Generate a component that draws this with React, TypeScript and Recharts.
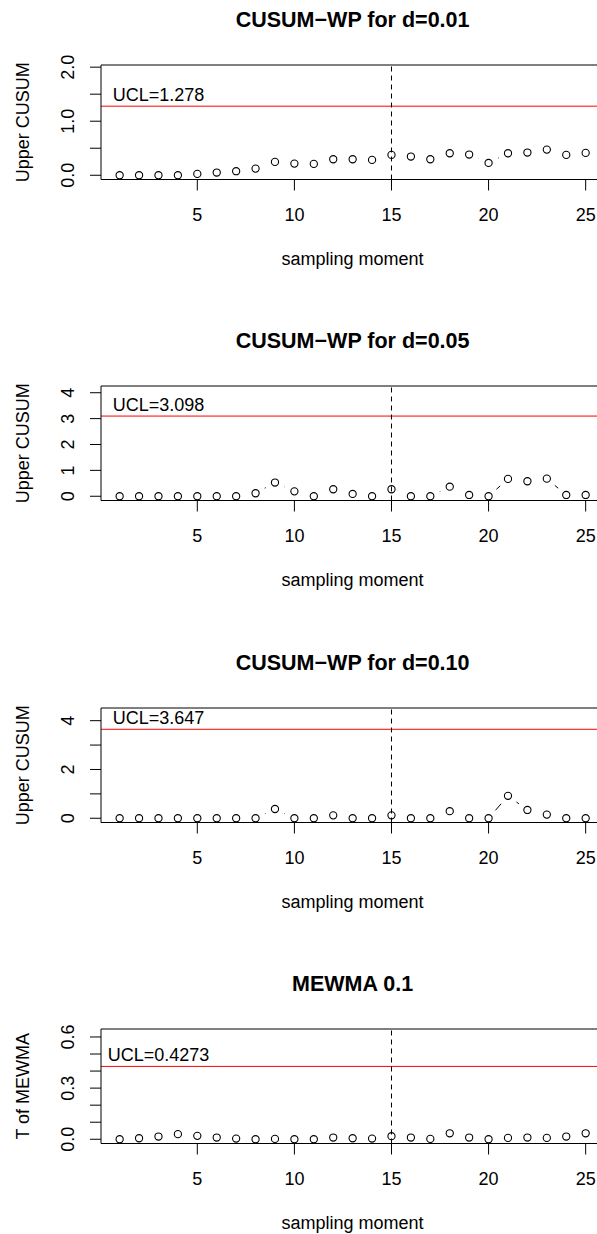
import React from "react";
import {
  LineChart,
  Line,
  XAxis,
  YAxis,
  ReferenceLine,
  ReferenceDot,
} from "recharts";

// sampling moments
const samples = [
  1, 2, 3, 4, 5, 6, 7, 8, 9, 10, 11, 12, 13, 14, 15, 16, 17, 18, 19, 20, 21,
  22, 23, 24, 25,
];

// upper CUSUM statistics
const cusum001 = [
  0, 0, 0, 0, 0.025, 0.05, 0.075, 0.123, 0.247, 0.216, 0.21, 0.296, 0.296,
  0.284, 0.377, 0.346, 0.296, 0.407, 0.383, 0.228, 0.407, 0.42, 0.475, 0.377,
  0.414,
];
const cusum005 = [
  0, 0, 0, 0, 0, 0, 0, 0.116, 0.53, 0.19, 0, 0.27, 0.09, 0, 0.27, 0, 0, 0.37,
  0.05, 0, 0.67, 0.58, 0.68, 0.05, 0.05,
];
const cusum010 = [
  0, 0, 0, 0, 0, 0, 0, 0, 0.38, 0, 0, 0.12, 0, 0, 0.12, 0, 0, 0.29, 0, 0, 0.92,
  0.34, 0.15, 0, 0,
];
const mewma01 = [
  0, 0.006, 0.016, 0.03, 0.02, 0.01, 0.004, 0, 0.002, 0, 0, 0.01, 0.006, 0.004,
  0.018, 0.01, 0.002, 0.035, 0.01, 0, 0.008, 0.01, 0.008, 0.016, 0.035,
];

const seriesList = [cusum001, cusum005, cusum010, mewma01];
const titles = [
  "CUSUM\u2212WP for d=0.01",
  "CUSUM\u2212WP for d=0.05",
  "CUSUM\u2212WP for d=0.10",
  "MEWMA 0.1",
];
const yLabels = ["Upper CUSUM", "Upper CUSUM", "Upper CUSUM", "T of MEWMA"];
const uclValues = [1.278, 3.098, 3.647, 0.4273];
const uclLabels = ["UCL=1.278", "UCL=3.098", "UCL=3.647", "UCL=0.4273"];
const changePoint = 15;
const uclLabelAt = 3;

const xTicks = [5, 10, 15, 20, 25];
const yTicks = [
  [0, 0.5, 1, 1.5, 2],
  [0, 1, 2, 3, 4],
  [0, 1, 2, 3, 4],
  [0, 0.1, 0.2, 0.3, 0.4, 0.5, 0.6],
];
const yTickLabels = [
  ["0.0", "", "1.0", "", "2.0"],
  ["0", "1", "2", "3", "4"],
  ["0", "", "2", "", "4"],
  ["0.0", "", "", "0.3", "", "", "0.6"],
];
const yDomains = [
  [-0.0785, 2.04],
  [-0.164, 4.26],
  [-0.174, 4.52],
  [-0.0249, 0.6468],
];

const FONT = "'Liberation Sans', Arial, Helvetica, sans-serif";
const W = 640;
const MT = 65;
const PH = 114.5;
const XH = 100;
const H = MT + PH + XH;
const PANEL_STEP = 321.3;
const CX = 352.6;
const GAP = 10.5;

const XTick = (p: any) => (
  <text
    x={p.x}
    y={p.y + 30}
    textAnchor="middle"
    fontSize={18}
    fontFamily={FONT}
    fill="#000"
  >
    {p.payload.value}
  </text>
);

const makeYTick = (ticks: number[], labels: string[]) => (p: any) => {
  const i = ticks.findIndex((t) => Math.abs(t - p.payload.value) < 1e-9);
  const s = labels[i];
  if (!s) return <g />;
  const bx = p.x - 15.9;
  return (
    <text
      x={bx}
      y={p.y}
      transform={`rotate(-90 ${bx} ${p.y})`}
      textAnchor="middle"
      fontSize={18}
      fontFamily={FONT}
      fill="#000"
    >
      {s}
    </text>
  );
};

// open circle plus a gapped connector to the next point (R type = "b")
const renderDot = (p: any) => {
  const { cx, cy, index, points } = p;
  let seg = null;
  const next = points && points[index + 1];
  if (next && next.x != null && next.y != null) {
    const dx = next.x - cx;
    const dy = next.y - cy;
    const d = Math.hypot(dx, dy);
    if (d > 2 * GAP) {
      const ux = dx / d;
      const uy = dy / d;
      seg = (
        <line
          x1={cx + ux * GAP}
          y1={cy + uy * GAP}
          x2={next.x - ux * GAP}
          y2={next.y - uy * GAP}
          stroke="#000"
          strokeWidth={1}
        />
      );
    }
  }
  return (
    <g key={`dot-${index}`}>
      <circle cx={cx} cy={cy} r={3.6} fill="none" stroke="#000" strokeWidth={1.1} />
      {seg}
    </g>
  );
};

const Panel = ({ idx }: { idx: number }) => {
  const data = samples.map((t, i) => ({ t, v: seriesList[idx][i] }));
  const [lo, hi] = yDomains[idx];
  const label = uclLabels[idx];
  return (
    <div
      style={{
        position: "absolute",
        left: 0,
        top: idx * PANEL_STEP,
        width: W,
        height: H,
      }}
    >
      <LineChart
        width={W}
        height={H}
        data={data}
        margin={{ top: MT, right: 35.7, bottom: 0, left: 41 }}
      >
        <XAxis
          dataKey="t"
          type="number"
          domain={[0.04, 25.96]}
          ticks={xTicks}
          interval={0}
          allowDataOverflow
          height={XH}
          tickSize={11}
          tickMargin={0}
          stroke="#000"
          tick={XTick}
        />
        <YAxis
          type="number"
          domain={[lo, hi]}
          ticks={yTicks[idx]}
          interval={0}
          allowDataOverflow
          width={60}
          tickSize={11}
          tickMargin={0}
          stroke="#000"
          tick={makeYTick(yTicks[idx], yTickLabels[idx])}
        />
        <ReferenceLine y={hi} stroke="#000" strokeWidth={1} />
        <ReferenceLine y={uclValues[idx]} stroke="#ff0000" strokeWidth={1} />
        <ReferenceLine
          x={changePoint}
          stroke="#000"
          strokeWidth={1}
          strokeDasharray="5 4"
        />
        <ReferenceDot
          x={uclLabelAt}
          y={uclValues[idx]}
          r={0}
          shape={(p: any) => (
            <text
              x={p.cx}
              y={p.cy - 5}
              textAnchor="middle"
              fontSize={18}
              fontFamily={FONT}
              fill="#000"
            >
              {label}
            </text>
          )}
        />
        <Line
          dataKey="v"
          stroke="none"
          dot={renderDot}
          activeDot={false}
          isAnimationActive={false}
        />
        <text
          x={CX}
          y={26.7}
          textAnchor="middle"
          fontSize={21.5}
          fontWeight="bold"
          fontFamily={FONT}
          fill="#000"
        >
          {titles[idx]}
        </text>
        <text
          x={29.3}
          y={MT + PH / 2}
          transform={`rotate(-90 29.3 ${MT + PH / 2})`}
          textAnchor="middle"
          fontSize={18}
          fontFamily={FONT}
          fill="#000"
        >
          {yLabels[idx]}
        </text>
        <text
          x={CX}
          y={MT + PH + 85.1}
          textAnchor="middle"
          fontSize={18}
          fontFamily={FONT}
          fill="#000"
        >
          sampling moment
        </text>
      </LineChart>
    </div>
  );
};

export default function App() {
  return (
    <div
      style={{
        position: "absolute",
        left: 0,
        top: 0,
        width: 597,
        height: 1234,
        overflow: "hidden",
        background: "#fff",
      }}
    >
      {[0, 1, 2, 3].map((i) => (
        <Panel key={i} idx={i} />
      ))}
    </div>
  );
}
